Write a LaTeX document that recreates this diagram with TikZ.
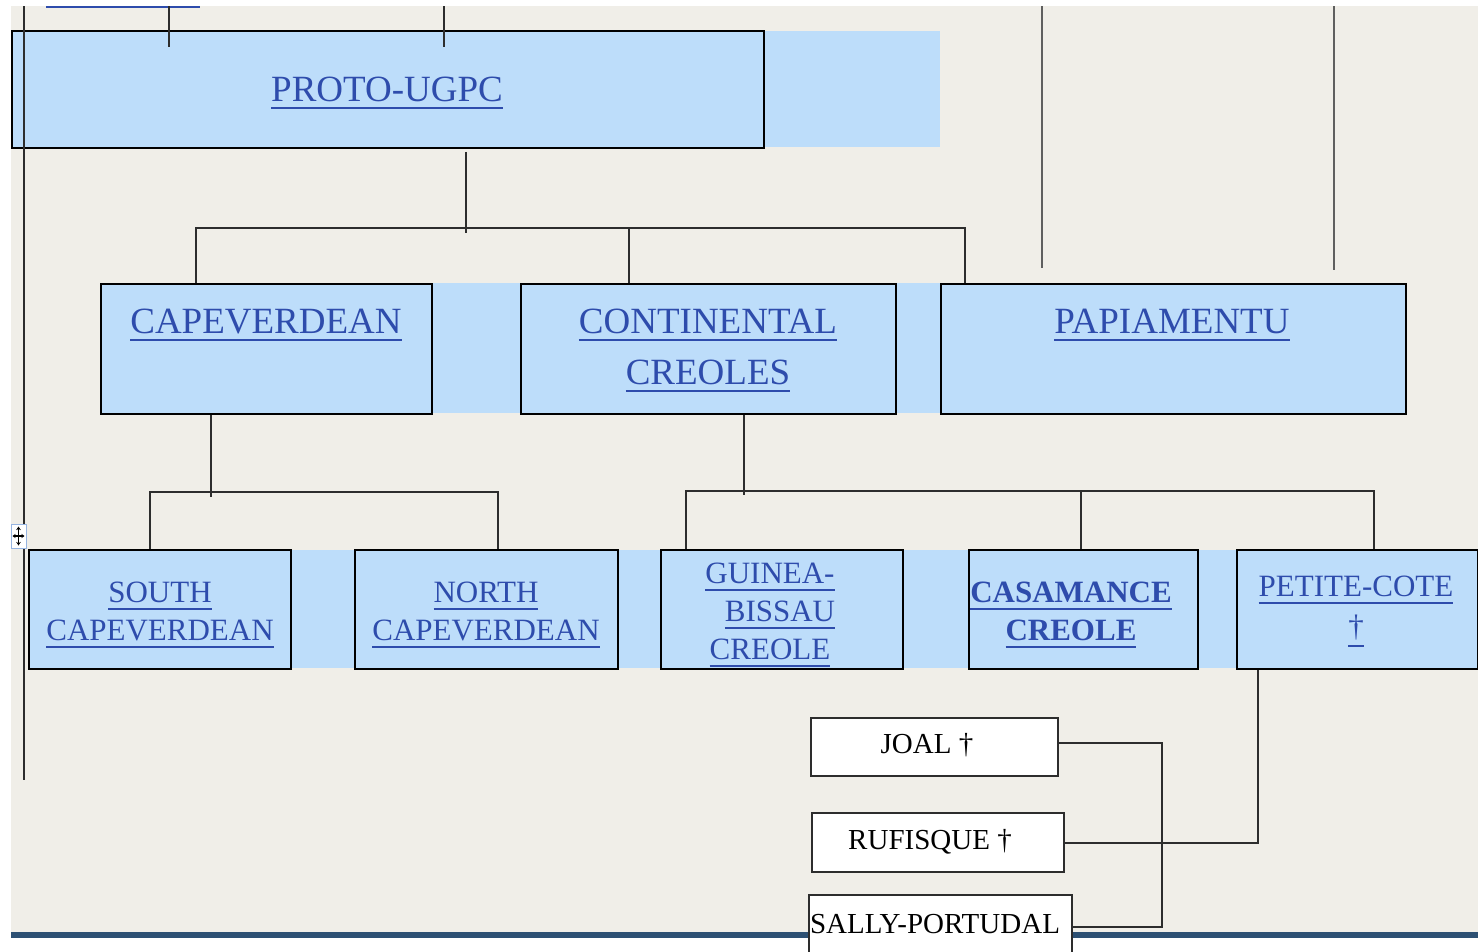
\documentclass[tikz,border=0pt]{standalone}
\usepackage{fontspec}
\setmainfont{Liberation Serif}
\usetikzlibrary{arrows.meta}
\definecolor{bg}{RGB}{240,238,232}
\definecolor{lblue}{RGB}{189,221,250}
\definecolor{tblue}{RGB}{46,76,172}
\definecolor{lnc}{RGB}{45,45,45}
\definecolor{vgray}{RGB}{95,95,95}
\definecolor{barblue}{RGB}{45,80,115}
\definecolor{hblue}{RGB}{150,180,225}
\newcommand\myul[1]{\setbox0\hbox{#1}\dimen0=\dp0 \advance\dimen0 by 7.3pt \rlap{\vrule width\wd0 height -\dimexpr\dimen0-1.8pt\relax depth \dimen0}\box0}
\newcommand\boxat[6][box]{\node[#1, minimum width=#5pt, minimum height=#6pt] (#2) at (#3,#4) {};}
\tikzset{
  box/.style={draw=black, line width=1.8pt, fill=lblue, anchor=north west, inner sep=0pt},
  wbox/.style={draw=lnc, line width=1.6pt, fill=white, anchor=north west, inner sep=0pt},
  conn/.style={draw=lnc, line width=1.6pt},
  vline/.style={draw=vgray, line width=2.6pt},
  tA/.style={anchor=base, inner sep=0pt, text=tblue, font=\fontsize{37}{44}\selectfont},
  tB/.style={anchor=base, inner sep=0pt, text=tblue, font=\fontsize{31}{38}\selectfont},
  tC/.style={anchor=base, inner sep=0pt, text=black, font=\fontsize{29}{34}\selectfont},
}
\begin{document}
\begin{tikzpicture}[x=1pt, y=-1pt]
\useasboundingbox (0,0) rectangle (1478,951);
% backgrounds
\fill[white] (0,0) rectangle (1478,951);
\fill[bg] (11,6) rectangle (1478,932);
\fill[barblue] (11,932) rectangle (1478,938);
\fill[tblue] (46,5.5) rectangle (200,7.5);
% table bands
\fill[lblue] (11,31) rectangle (940,147);
\fill[lblue] (100,283) rectangle (1405,413);
\fill[lblue] (28,550) rectangle (1478,668);
% boxes
\boxat{proto}{11}{30}{752}{117}
\boxat{cape}{100}{283}{331}{130}
\boxat{cont}{520}{283}{375}{130}
\boxat{papi}{940}{283}{465}{130}
\boxat{south}{28}{549}{262}{119}
\boxat{north}{354}{549}{263}{119}
\boxat{guinea}{660}{549}{242}{119}
\boxat{casa}{968}{549}{229}{119}
\boxat{petite}{1236}{549}{241}{119}
\boxat[wbox]{joal}{810}{717}{247}{58}
\boxat[wbox]{rufi}{811}{812}{252}{59}
\boxat[wbox]{sally}{808}{894}{263}{64}
% free line ends
\coordinate (s1a) at (169,6);  \coordinate (s1b) at (169,47);
\coordinate (s2a) at (444,6);  \coordinate (s2b) at (444,47);
\coordinate (la) at (24,6);    \coordinate (lb) at (24,780);
\coordinate (r1a) at (1042,6); \coordinate (r1b) at (1042,268);
\coordinate (r2a) at (1334,6); \coordinate (r2b) at (1334,270);
\draw[conn] (s1a) -- (s1b);
\draw[conn] (s2a) -- (s2b);
\draw[conn] (la) -- (lb);
\draw[vline] (r1a) -- (r1b);
\draw[vline] (r2a) -- (r2b);
% level 1 bus
\coordinate (hub1) at (466,228);
\coordinate (b1l) at (196,228);
\coordinate (b1m) at (629,228);
\coordinate (b1r) at (965,228);
\draw[conn] ([yshift=-3pt]proto.south -| hub1) -- ([yshift=-5pt]hub1);
\draw[conn] (cape.north -| b1l) -- (b1l) -- (b1r) -- (papi.north -| b1r);
\draw[conn] (b1m) -- (cont.north -| b1m);
% level 2 bus (capeverdean)
\coordinate (hub2) at (211,492);
\coordinate (b2l) at (150,492);
\coordinate (b2r) at (498,492);
\draw[conn] (cape.south -| hub2) -- ([yshift=-5pt]hub2);
\draw[conn] (south.north -| b2l) -- (b2l) -- (b2r) -- (north.north -| b2r);
% level 2 bus (continental)
\coordinate (hub3) at (744,491);
\coordinate (b3l) at (686,491);
\coordinate (b3m) at (1081,491);
\coordinate (b3r) at (1374,491);
\draw[conn] (cont.south -| hub3) -- ([yshift=-4pt]hub3);
\draw[conn] (guinea.north -| b3l) -- (b3l) -- (b3r) -- (petite.north -| b3r);
\draw[conn] (b3m) -- (casa.north -| b3m);
% petite-cote to varieties
\coordinate (k1) at (1258,843);
\coordinate (k2) at (1162,743);
\draw[conn] (petite.south -| k1) -- (k1) -- (rufi.east |- k1);
\draw[conn] (joal.east |- k2) -- (k2) -- (sally.east -| k2) -- (sally.east);
% move handle
\node[draw=hblue, fill=white, line width=1pt, minimum width=15pt, minimum height=24pt, inner sep=0pt] (handle) at (18.5,536) {};
\draw[black, line width=1.2pt, {Stealth[length=3.5pt,width=4.5pt]}-{Stealth[length=3.5pt,width=4.5pt]}] ([yshift=-3pt]handle.north) -- ([yshift=3pt]handle.south);
\draw[black, line width=1.2pt, {Stealth[length=3pt,width=4pt]}-{Stealth[length=3pt,width=4pt]}] ([xshift=2pt]handle.west) -- ([xshift=-2pt]handle.east);
% texts
\node[tA] (tproto) at (387,101) {\myul{PROTO-UGPC}};
\node[tA] (tcape) at (266,333) {\myul{CAPEVERDEAN}};
\node[tA] (tcont1) at (708,333) {\myul{CONTINENTAL}};
\node[tA] (tcont2) at (708,384) {\myul{CREOLES}};
\node[tA] (tpapi) at (1172,333) {\myul{PAPIAMENTU}};
\node[tB] (tsouth1) at (160,602) {\myul{SOUTH}};
\node[tB] (tsouth2) at (160,640) {\myul{CAPEVERDEAN}};
\node[tB] (tnorth1) at (486,602) {\myul{NORTH}};
\node[tB] (tnorth2) at (486,640) {\myul{CAPEVERDEAN}};
\node[tB] (tgb1) at (770,583) {\myul{GUINEA-}};
\node[tB] (tgb2) at (780,621) {\myul{BISSAU}};
\node[tB] (tgb3) at (770,659) {\myul{CREOLE}};
\node[tB, font=\fontsize{31}{38}\selectfont\bfseries] (tcasa1) at (1071,602) {\myul{CASAMANCE}};
\node[tB, font=\fontsize{31}{38}\selectfont\bfseries] (tcasa2) at (1071,640) {\myul{CREOLE}};
\node[tB] (tpet1) at (1356,596) {\myul{PETITE-COTE}};
\node[tB] (tpet2) at (1356,636) {\myul{†}};
\node[tC] (tjoal) at (927,753) {JOAL †};
\node[tC] (trufi) at (930,849) {RUFISQUE †};
\node[tC] (tsally) at (935,933) {SALLY-PORTUDAL};
\end{tikzpicture}
\end{document}
